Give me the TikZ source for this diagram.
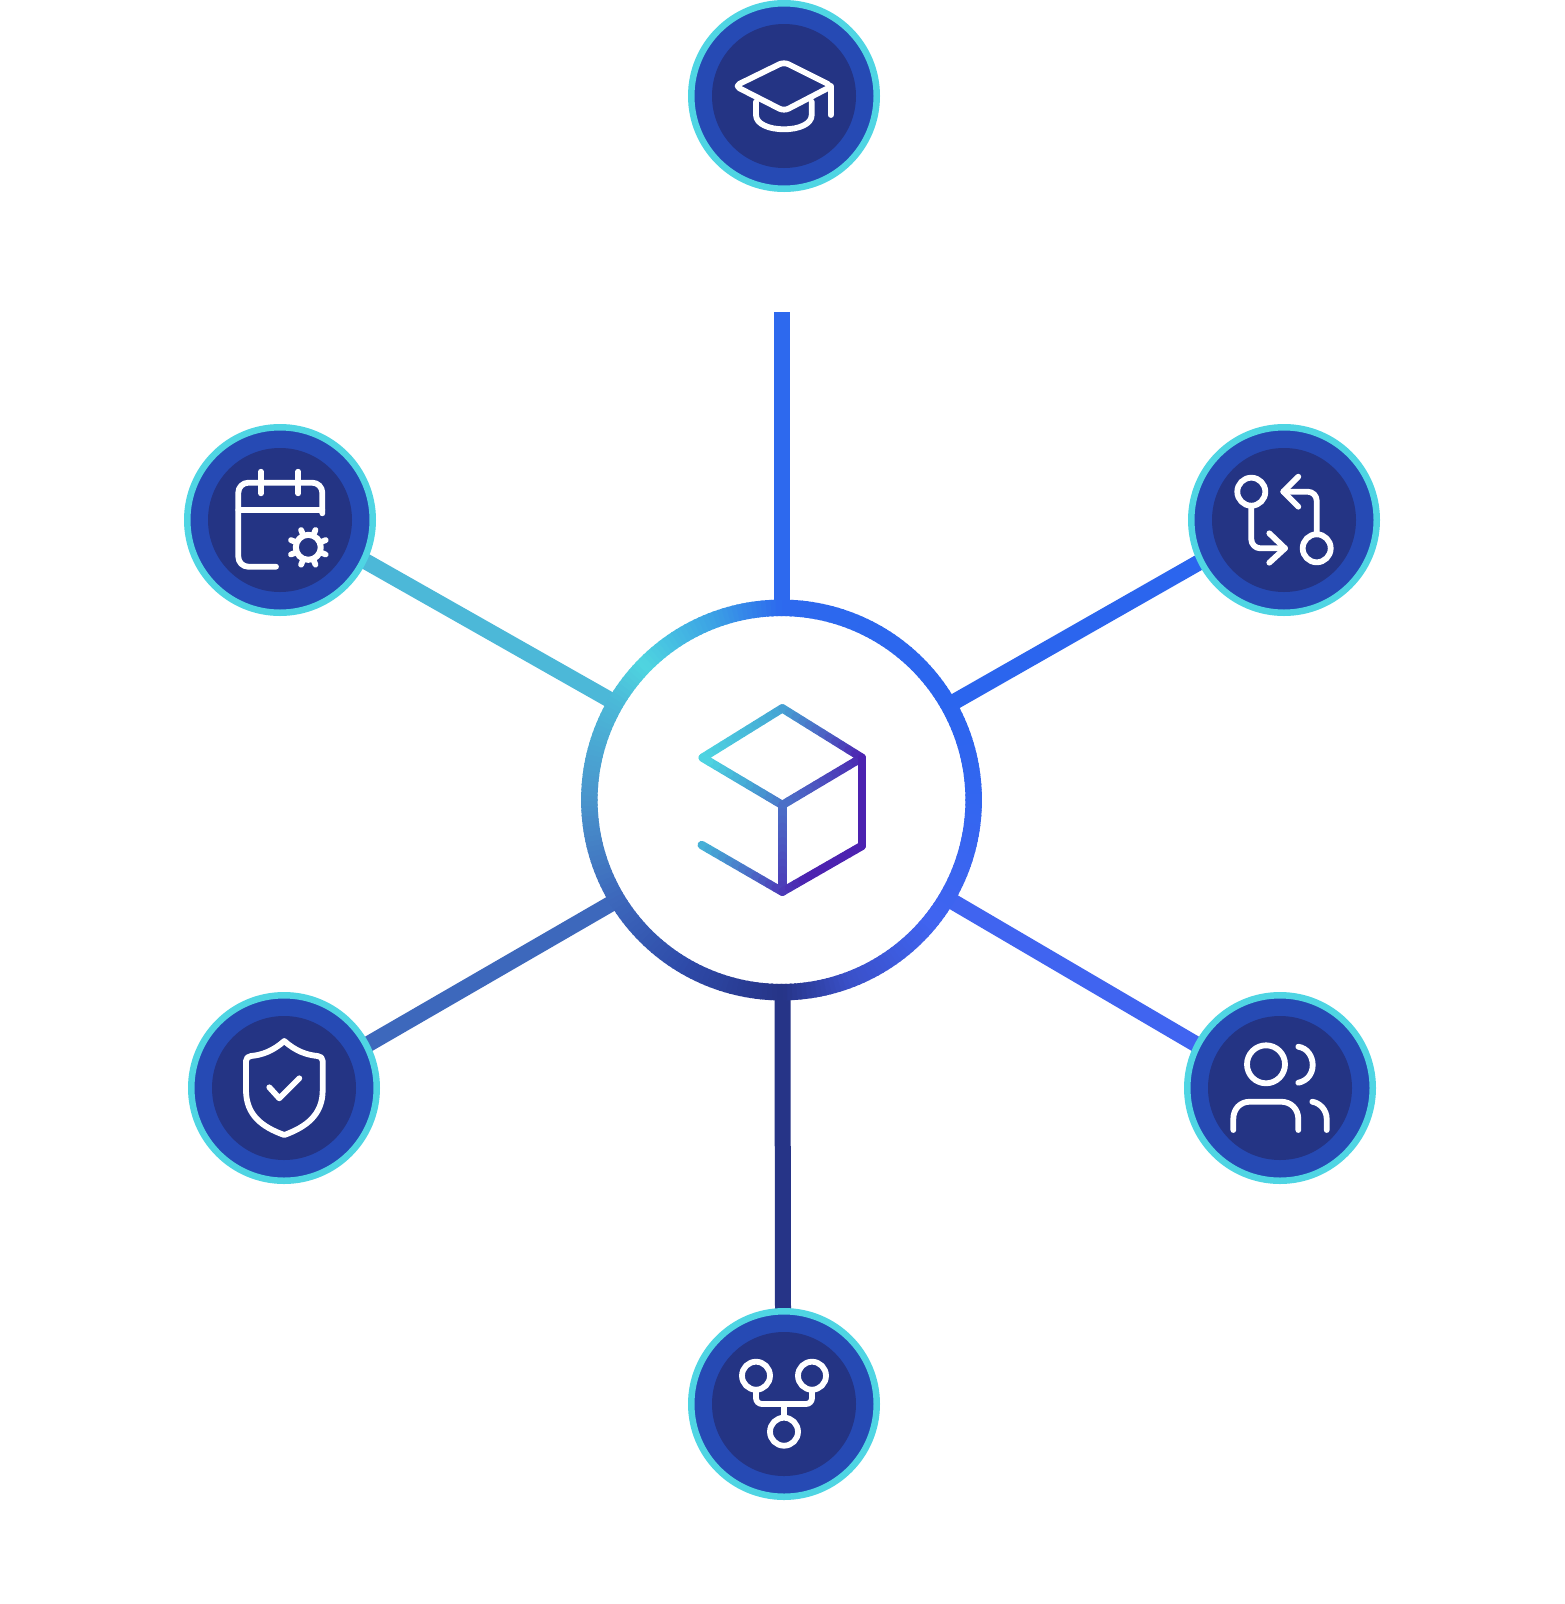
\documentclass[tikz,border=0pt]{standalone}
\usetikzlibrary{backgrounds}
\definecolor{ringc}{HTML}{4FD5E3}
\definecolor{midc}{HTML}{264AB4}
\definecolor{corec}{HTML}{243484}
\definecolor{cg0}{HTML}{4FD8E2}
\definecolor{cg1}{HTML}{45A8D5}
\definecolor{cg2}{HTML}{4C6AC6}
\definecolor{cg3}{HTML}{4C22B0}
\definecolor{ra}{HTML}{2D69EE}
\definecolor{rb}{HTML}{2B65EE}
\definecolor{rc}{HTML}{3366F0}
\definecolor{rd}{HTML}{4064F0}
\definecolor{re}{HTML}{3A50C8}
\definecolor{rf}{HTML}{263487}
\definecolor{rg}{HTML}{2E4AA8}
\definecolor{rh}{HTML}{3D68BC}
\definecolor{ri}{HTML}{4A94CC}
\definecolor{rj}{HTML}{4BB8D8}
\definecolor{rk}{HTML}{4FD5E0}
\definecolor{rl}{HTML}{3BA0E5}
\definecolor{sa}{HTML}{2D69EE}
\definecolor{sb}{HTML}{2B65EE}
\definecolor{sc}{HTML}{4064F0}
\definecolor{sd}{HTML}{263487}
\definecolor{se}{HTML}{3D68BC}
\definecolor{sf}{HTML}{4CB8D8}
\tikzset{
  sat/.style={circle,draw=ringc,line width=6.5pt,fill=midc,minimum size=185.5pt,inner sep=0pt,outer sep=0pt},
  core/.style={circle,fill=corec,minimum size=144pt,inner sep=0pt,outer sep=0pt},
  spoke/.style={line width=16pt,line cap=butt},
  icon/.style={draw=white,line width=5.8pt,line cap=round,line join=round},
  hubnode/.style={circle,fill=white,minimum size=384.4pt,inner sep=0pt,outer sep=0pt}
}
\newcommand{\cubeedge}[4]{%
  \foreach \i in {1,...,12}{%
    \pgfmathsetmacro\xa{#1+(#3-#1)*(\i-1)/12}%
    \pgfmathsetmacro\ya{#2+(#4-#2)*(\i-1)/12}%
    \pgfmathsetmacro\xb{#1+(#3-#1)*\i/12}%
    \pgfmathsetmacro\yb{#2+(#4-#2)*\i/12}%
    \pgfmathsetmacro\tt{max(0,min(1.199,0.00737*((\xa+\xb)/2-702)+0.00345*((\ya+\yb)/2-757)))}%
    \pgfmathtruncatemacro\seg{floor(\tt/0.4)}%
    \pgfmathtruncatemacro\nxt{\seg+1}%
    \pgfmathsetmacro\pp{100*(1-(\tt-0.4*\seg)/0.4)}%
    \colorlet{cc}{cg\seg!\pp!cg\nxt}%
    \draw[cc,line width=8.4pt,line cap=round] (\xa,\ya) -- (\xb,\yb);%
  }%
}
\begin{document}
\begin{tikzpicture}[x=1pt,y=-1pt]
\useasboundingbox (0,0) rectangle (1564,1604);
% nodes
\node[hubnode] (hub) at (781.5,800) {};
\node[sat] (grad) at (784,96) {};
\node[core] (gradcore) at (784,96) {};
\node[sat] (cal) at (280,520) {};
\node[core] (calcore) at (280,520) {};
\node[sat] (pr) at (1284,520) {};
\node[core] (prcore) at (1284,520) {};
\node[sat] (shield) at (284,1088) {};
\node[core] (shieldcore) at (284,1088) {};
\node[sat] (users) at (1280,1088) {};
\node[core] (userscore) at (1280,1088) {};
\node[sat] (tree) at (784,1404) {};
\node[core] (treecore) at (784,1404) {};
\coordinate (topend) at (782.3,312);
% connectors
\begin{scope}[on background layer]
\fill[white] (0,0) rectangle (1564,1604);
\draw[spoke,sa] (topend) -- (topend |- hub.north);
\draw[spoke,sb] ([shift={(29.6:192.2pt)}]hub.center) -- ([shift={(206.45:93pt)}]pr.center);
\draw[spoke,sc] ([shift={(-30.7:192.2pt)}]hub.center) -- ([shift={(152.5:93pt)}]users.center);
\draw[spoke,sd] ([xshift=1pt]hub.south) -- ([xshift=-1pt]tree.north);
\draw[spoke,se] ([shift={(211.35:192.2pt)}]hub.center) -- ([shift={(27.5:93pt)}]shield.center);
\draw[spoke,sf] ([shift={(149.7:192.2pt)}]hub.center) -- ([shift={(-25.7:93pt)}]cal.center);
\end{scope}
% gradient ring
\foreach \a/\b/\ca/\cb in {0/60/ra/rb,60/90/rb/rc,90/130/rc/rd,130/160/rd/re,160/180/re/rf,180/210/rf/rg,210/240/rg/rh,240/270/rh/ri,270/300/ri/rj,300/315/rj/rk,315/340/rk/rl,340/360/rl/ra}{
  \pgfmathtruncatemacro\nn{ceil((\b-\a)/1.5)}
  \foreach \k in {1,...,\nn}{
    \pgfmathsetmacro\tha{\a+(\b-\a)*(\k-1)/\nn-0.25}
    \pgfmathsetmacro\thb{\a+(\b-\a)*\k/\nn+0.25}
    \pgfmathsetmacro\pp{100*(1-(\k-0.5)/\nn)}
    \colorlet{cc}{\ca!\pp!\cb}
    \draw[cc,line width=16.5pt,line cap=butt]
      ({781.5+192.2*sin(\tha)},{800-192.2*cos(\tha)}) -- ({781.5+192.2*sin(\thb)},{800-192.2*cos(\thb)});
  }
}
% cube
\cubeedge{702.7}{757.7}{782.3}{708.3}
\cubeedge{782.3}{708.3}{861.7}{757.7}
\cubeedge{861.7}{757.7}{782.3}{805}
\cubeedge{782.3}{805}{702.7}{757.7}
\cubeedge{782.3}{805}{782.3}{891.7}
\cubeedge{701.7}{845}{782.3}{891.7}
\cubeedge{782.3}{891.7}{861.7}{846}
\cubeedge{861.7}{846}{861.7}{757.7}
% graduation cap
\draw[icon,rounded corners=5pt] (784,62) -- (832,86) -- (784,111) -- (735,86) -- cycle;
\draw[icon] (830.7,86) -- (830.7,115);
\draw[icon] (756,101.7) -- (756,115) .. controls (756,124) and (769,129.3) .. (784,129.3) .. controls (799,129.3) and (811.7,124) .. (811.7,115) -- (811.7,101.7);
% calendar
\draw[icon,rounded corners=10pt] (276,566.7) -- (238.3,566.7) -- (238.3,482.7) -- (322.3,482.7) -- (322.3,513.3);
\draw[icon] (238.3,510) -- (322.3,510);
\draw[icon] (261,471.7) -- (261,493.3);
\draw[icon] (298.3,471.7) -- (298.3,493.3);
\draw[icon,line width=6pt] (308.3,547.3) circle[radius=12.5];
\foreach \g in {22.5,67.5,...,337.5}{
  \draw[icon] ({308.3+14*cos(\g)},{547.3+14*sin(\g)}) -- ({308.3+18.8*cos(\g)},{547.3+18.8*sin(\g)});
}
% pull request
\draw[icon] (1251.3,491.7) circle[radius=14];
\draw[icon] (1316.7,548.3) circle[radius=14];
\draw[icon,rounded corners=9pt] (1251.3,506) -- (1251.3,548.3) -- (1285,548.3);
\draw[icon] (1269.3,533.3) -- (1285,548.3) -- (1269.3,562.7);
\draw[icon,rounded corners=9pt] (1316.7,534) -- (1316.7,491.7) -- (1283.3,491.7);
\draw[icon] (1298.3,476.7) -- (1283.3,491.7) -- (1298.3,506.7);
% shield
\draw[icon] (284.3,1041) .. controls (273,1051) and (262,1055) .. (251,1056) .. controls (248,1056.3) and (246,1058) .. (246,1061) -- (246,1090) .. controls (246,1115) and (262,1127) .. (284.3,1135) .. controls (306,1127) and (322.7,1115) .. (322.7,1090) -- (322.7,1061) .. controls (322.7,1058) and (320.7,1056.3) .. (317.7,1056) .. controls (306.5,1055) and (295.5,1051) .. cycle;
\draw[icon] (269.3,1087.3) -- (279.3,1098.3) -- (299.3,1078.3);
% users
\draw[icon] (1266,1064.3) circle[radius=19];
\draw[icon] (1298.3,1046.7) .. controls (1307,1048) and (1312.7,1056) .. (1312.7,1065) .. controls (1312.7,1074) and (1307,1081) .. (1298.3,1082.7);
\draw[icon] (1233.3,1130) -- (1233.3,1119) .. controls (1233.3,1109) and (1240,1101.7) .. (1250,1101.7) -- (1281,1101.7) .. controls (1291,1101.7) and (1298.3,1109) .. (1298.3,1119) -- (1298.3,1130);
\draw[icon] (1312.3,1101.7) .. controls (1320,1103) and (1326.7,1110) .. (1326.7,1119) -- (1326.7,1130);
% tree
\draw[icon] (756,1375.7) circle[radius=14];
\draw[icon] (812,1375.7) circle[radius=14];
\draw[icon] (784,1431.7) circle[radius=14];
\draw[icon,rounded corners=6pt] (756,1390) -- (756,1404) -- (812,1404) -- (812,1390);
\draw[icon] (784,1404) -- (784,1417);
\end{tikzpicture}
\end{document}
